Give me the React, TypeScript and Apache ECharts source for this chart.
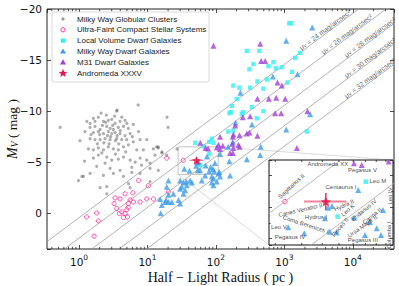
import React, { useEffect, useRef } from 'react';
import * as echarts from 'echarts';

// ---------------- data: [half-light radius (pc), M_V (mag)] ----------------
const globularClusters: [number, number][] = [
  [7.3, -10.6], [2.1, -9.8], [2.5, -9.6], [3.55, -10.0], [4.2, -9.4], [1.62, -9.3], [1.91, -9.4],
  [1.3, -9.0], [1.45, -8.8], [1.71, -9.0], [2.27, -9.0], [2.68, -9.1], [3.0, -9.2], [3.36, -8.8],
  [3.97, -9.0], [4.7, -9.1], [6.2, -8.7], [0.53, -8.4], [1.45, -8.4], [1.71, -8.5], [2.03, -8.2],
  [2.54, -8.5], [2.84, -8.3], [3.17, -8.2], [3.75, -8.4], [4.45, -8.5], [5.25, -8.3], [1.22, -8.0],
  [1.62, -7.9], [1.91, -8.0], [2.27, -7.8], [2.68, -8.0], [3.0, -7.8], [3.36, -7.9], [3.97, -7.8],
  [4.7, -7.6], [5.57, -7.8], [7.4, -8.0], [1.03, -7.1], [1.45, -7.3], [1.71, -7.2], [2.03, -7.2],
  [2.4, -7.3], [2.84, -7.2], [3.55, -7.3], [4.2, -7.2], [4.97, -7.2], [6.2, -7.0], [7.8, -7.2],
  [9.75, -7.2], [1.37, -6.3], [1.62, -6.2], [1.91, -6.4], [2.27, -6.2], [2.68, -6.5], [3.17, -6.3],
  [3.75, -6.2], [4.45, -6.5], [5.25, -6.7], [6.97, -6.2], [8.7, -6.2], [12.2, -6.3], [14.4, -6.4],
  [19.1, -5.7], [1.2, -5.1], [1.62, -5.4], [1.91, -5.7], [2.54, -5.5], [3.0, -5.2], [3.75, -5.3],
  [4.45, -5.5], [5.57, -5.2], [6.6, -5.0], [7.8, -5.4], [9.75, -5.2], [12.9, -5.7], [16.2, -5.9],
  [1.81, -4.6], [2.4, -4.9], [2.84, -4.4], [3.97, -4.2], [5.9, -4.5], [8.2, -4.7], [10.9, -4.9],
  [1.1, -3.6], [1.45, -3.9], [2.27, -3.7], [3.17, -3.9], [4.45, -3.6], [5.9, -4.0], [7.8, -3.9],
  [10.9, -4.4], [14.4, -4.2], [19.3, -9.4], [20, -8.4], [3.6, -10.1], [1.16, -3.6], [0.98, -3.2],
  [2.03, -2.5], [2.54, -1.9], [5.57, -2.5], [10.9, -3.1], [2.54, -2.6], [5.25, -2.9], [13.6, -6.5],
  [14.3, -6.5], [16.3, -6.0], [27, -6.3], [2.2, -8.6], [2.6, -7.6], [3.1, -8.6], [2.9, -7.5],
  [3.4, -7.1], [2.3, -6.9], [3.8, -6.8], [2.0, -7.7], [4.0, -8.1], [2.45, -8.9], [3.3, -9.5],
  [2.75, -6.8], [1.85, -6.8], [4.8, -6.0], [3.4, -5.8], [2.15, -5.9], [5.0, -8.8], [6.0, -7.5],
  [1.5, -7.7], [3.6, -7.6],
];

const ultraFaintSystems: [number, number][] = [
  [7.4, -3.2], [10.3, -2.7], [20.2, -2.1], [3.36, -1.5], [4.7, -1.9], [6.1, -2.0], [5.57, -1.3],
  [6.2, -1.1], [5.25, -0.95], [3.97, -1.4], [7.8, -1.1], [9.75, -1.4], [12.2, -1.4], [3.25, -0.95],
  [3.55, -0.46], [4.2, -0.13], [4.97, -0.36], [5.25, -0.56], [4.7, 0.03], [3.88, 0.03], [4.45, 0.42],
  [5.1, 0.36], [1.81, -0.03], [1.29, 0.36], [1.91, 0.75], [1.66, 2.25], [19.1, -5.4],
];

const localVolumeDwarfs: [number, number][] = [
  [1180, -18.6], [1260, -18.6], [283, -15.9], [433, -15.9], [1700, -15.7], [1440, -15.2], [353, -14.6],
  [309, -14.1], [693, -14.8], [586, -14.4], [759, -14.2], [918, -14.3], [1288, -13.85], [404, -12.9],
  [555, -13.1], [1110, -12.8], [180, -12.5], [221, -12.3], [316, -12.3], [494, -12.2], [202, -11.2],
  [171, -10.5], [335, -10.4], [247, -9.9], [494, -10.0], [165, -9.9], [239, -9.7], [396, -9.3],
  [2130, -8.0], [152, -8.0], [180, -8.1], [87, -7.3], [80, -7.0], [92, -6.9], [66, -6.55], [50, -6.9],
  [158, -9.8],
];

const milkyWayDwarfs: [number, number][] = [
  [2550, -18.2], [1063, -16.9], [1555, -13.6], [679, -13.4], [228, -11.8], [193, -8.85], [335, -8.7],
  [1063, -8.2], [2380, -9.7], [151, -6.5], [443, -5.7], [283, -5.3], [115, -5.8], [157, -5.1],
  [112, -4.05], [109, -3.9], [30, -3.2], [33.5, -3.0], [36.7, -3.1], [42, -3.2], [44.5, -3.0], [62, -3.2],
  [87, -3.6], [92, -3.4], [115, -3.6], [31.7, -2.6], [35.5, -2.25], [33.5, -1.9], [92, -2.75],
  [28.3, -1.3], [30, -0.95], [22.6, -1.1], [15.3, -1.4], [18.7, -1.3], [16.2, -0.8], [20.2, -3.2],
  [19.1, -2.6], [20.2, -1.8], [15.6, 0.0], [161, -3.7], [87, -3.0], [37.6, -2.75], [30, -2.4],
  [23.9, -1.9], [69.5, -3.7], [103, -3.1], [177, -7.0], [451, -6.5], [18.1, -1.1], [20.2, -1.1],
];

const m31Dwarfs: [number, number][] = [
  [92, -16.4], [443, -16.6], [458, -14.9], [524, -14.9], [792, -12.8], [918, -12.5], [404, -11.2],
  [593, -11.2], [759, -11.3], [1028, -11.2], [2180, -10.0], [733, -9.8], [897, -9.8], [316, -9.5],
  [247, -9.4], [191, -8.6], [221, -7.65], [283, -7.8], [177, -7.5], [115, -7.5], [126, -6.6],
  [115, -6.3], [174, -6.8], [180, -6.4], [221, -6.5], [180, -7.7], [309, -7.9], [404, -7.6],
  [109, -6.7], [161, -5.9], [177, -5.9], [213, -6.7], [1524, -6.4], [59, -6.9],
];

// Andromeda XXXV: r_h, M_V, r_h lower / upper, M_V error
const andXXXV = { r: 52, M: -5.18, rLo: 41, rHi: 65, dM: 0.27 };

// objects inside the zoomed box: [name, group, r_h, M_V]
const boxObjects: [string, string, number, number][] = [
  ['Andromeda XX', 'M31', 70.6, -6.4], ['Pegasus V', 'M31', 76.8, -6.34], ['', 'M31', 103, -6.45],
  ['Leo M', 'LV', 80.4, -5.81], ['Centaurus I', 'MW', 74, -5.55], ['Sagittarius II', 'UF', 33.3, -5.18],
  ['Hydra II', 'MW', 55.6, -5.04], ['Canes Venatici II', 'MW', 53.3, -4.98], ['Hydrus I', 'MW', 51.5, -4.65],
  ['Leo K', 'LV', 59.1, -4.7], ['Coma Berenices I', 'MW', 54.3, -4.22], ['Pisces II', 'MW', 58.5, -4.2],
  ['Leo V', 'MW', 34.5, -4.36], ['Pegasus IV', 'MW', 41.1, -4.17], ['Eridanus IV', 'MW', 70.8, -4.67],
  ['Carina II', 'MW', 84, -4.53], ['Ursa Major II', 'MW', 90.4, -4.33], ['Pegasus III', 'MW', 79.6, -4.12],
  ['Columba I', 'MW', 94.8, -4.12], ['Leo IV', 'MW', 96.8, -4.91],
];

// inset name annotations: [text, r_h, M_V (text centre), rotation deg]
const insetLabels: [string, number, number, number][] = [
  ['Andromeda XX', 53.1, -6.37, 0], ['Pegasus V', 77.4, -6.18, 0], ['Leo M', 91.6, -5.83, 0],
  ['Centaurus I', 61.3, -5.64, 0], ['Sagittarius II', 35.7, -5.67, 43], ['Canes Venatici II', 39.4, -4.91, 13],
  ['Hydra II', 63.3, -5.06, 25], ['Hydrus I', 46.7, -4.7, 0], ['Leo K', 66.1, -4.91, 40],
  ['Coma Berenices I', 41.8, -4.45, -18], ['Leo V', 31.2, -4.36, 0], ['Pegasus IV', 35.2, -4.05, 0],
  ['Pisces II', 60.6, -4.36, 50], ['Eridanus IV', 78.7, -4.91, 40], ['Carina II', 85.9, -4.72, 40],
  ['Ursa Major II', 77.4, -4.39, 35], ['Pegasus III', 77.8, -3.96, 0], ['Columba I', 103.3, -4.12, 90],
  ['Leo IV', 104.5, -5.36, 90],
];

// surface-brightness levels (mag/arcsec^2) and where their labels start (pc)
const sbLevels = [24, 26, 28, 30, 32];
const sbLabelRadius = [1820, 3800, 8280, 8280, 8280];

const legendNames = [
  'Milky Way Globular Clusters', 'Ultra-Faint Compact Stellar Systems', 'Local Volume Dwarf Galaxies',
  'Milky Way Dwarf Galaxies', 'M31 Dwarf Galaxies', 'Andromeda XXXV',
];

// ---------------- layout / style ----------------
const X_RANGE = [0.34, 40000];
const Y_RANGE = [-20, 3.5];
const BOX_X = [28, 108];
const BOX_Y = [-6.5, -3.8];
const MAIN = { left: 47, top: 9, width: 347, height: 240 };
const INSET = { left: 269, top: 160, width: 124, height: 85 };

const C = {
  gc: 'rgba(70,70,70,0.55)', uf: '#ff2aa0', lv: '#2ff0f0', mw: '#3c9ce8', m31: '#a13fd8', star: '#e3174b',
  sb: '#a0a0a0', ink: '#111',
};
const STAR = 'path://M0,-10L2.94,-4.05L9.51,-3.09L4.76,1.55L5.88,8.09L0,5L-5.88,8.09L-4.76,1.55L-9.51,-3.09L-2.94,-4.05Z';

const sbMag = (mu: number, r: number) => mu - 23.57 - 5 * Math.log10(r);

function starPts(cx: number, cy: number, R: number, r: number) {
  const p: number[][] = [];
  for (let i = 0; i < 10; i++) {
    const a = -Math.PI / 2 + (i * Math.PI) / 5;
    const rad = i % 2 ? r : R;
    p.push([cx + rad * Math.cos(a), cy + rad * Math.sin(a)]);
  }
  return p;
}

function buildOption() {
  const boxOf = (g: string) => boxObjects.filter((o) => o[1] === g).map((o) => [o[2], o[3]]);

  const minorMain: number[][] = [];
  for (let e = -1; e <= 4; e++)
    for (let k = 2; k <= 9; k++) {
      const v = k * Math.pow(10, e);
      if (v > X_RANGE[0] && v < X_RANGE[1]) minorMain.push([v, 0]);
    }
  const minorInset: number[][] = [];
  for (let k = 3; k <= 10; k++) minorInset.push([k * 10, -5]);

  const tickRender = (yBot: number, yTop: number, len: number) => (p: any, api: any) => {
    const v = api.value(0);
    const b = api.coord([v, yBot]);
    const t = api.coord([v, yTop]);
    const st = { stroke: '#222', lineWidth: 0.8 };
    return {
      type: 'group',
      children: [
        { type: 'line', shape: { x1: b[0], y1: b[1], x2: b[0], y2: b[1] - len }, style: st },
        { type: 'line', shape: { x1: t[0], y1: t[1], x2: t[0], y2: t[1] + len }, style: st },
      ],
    };
  };

  const errRender = (hw: number, vw: number) => (p: any, api: any) => {
    const x = api.value(0), y = api.value(1);
    const l = api.coord([api.value(2), y]);
    const r = api.coord([api.value(3), y]);
    const t = api.coord([x, y - api.value(4)]);
    const b = api.coord([x, y + api.value(4)]);
    return {
      type: 'group',
      children: [
        { type: 'line', shape: { x1: l[0], y1: l[1], x2: r[0], y2: r[1] }, style: { stroke: 'rgba(236,90,120,0.75)', lineWidth: hw } },
        { type: 'line', shape: { x1: t[0], y1: t[1], x2: b[0], y2: b[1] }, style: { stroke: C.star, lineWidth: vw } },
      ],
    };
  };

  const log10Label = (v: number) => {
    const e = Math.log10(v);
    const n = Math.round(e);
    if (Math.abs(e - n) > 1e-6) return '';
    return `{b|10}{s|${n}}`;
  };

  const noAxisLine = { show: false, onZero: false };
  const series: any[] = [];

  // surface-brightness lines (main)
  sbLevels.forEach((mu) => {
    series.push({
      type: 'line', xAxisIndex: 0, yAxisIndex: 0, silent: true, symbol: 'none', z: 1,
      data: [[0.2, sbMag(mu, 0.2)], [80000, sbMag(mu, 80000)]],
      lineStyle: { color: C.sb, width: 0.8 },
    });
  });
  series.push({
    type: 'scatter', xAxisIndex: 0, yAxisIndex: 0, symbolSize: 0, silent: true, z: 1,
    data: sbLevels.map((mu, i) => ({ name: String(mu), value: [sbLabelRadius[i], sbMag(mu, sbLabelRadius[i])] })),
    label: {
      show: true, position: 'inside', align: 'left', verticalAlign: 'bottom', rotate: 36.7,
      formatter: (p: any) => `{m|μ}{v|V}{t| = ${p.name} mag/arcsec²}`,
      rich: {
        m: { fontSize: 6.8, fontFamily: 'Liberation Sans', color: '#333' },
        v: { fontSize: 4.8, fontFamily: 'Liberation Sans', color: '#333', verticalAlign: 'bottom' },
        t: { fontSize: 6.8, fontFamily: 'Liberation Sans', color: '#333' },
      },
    },
  });
  // zoom box + connectors
  series.push({
    type: 'line', xAxisIndex: 0, yAxisIndex: 0, silent: true, symbol: 'none', z: 1,
    data: [[BOX_X[0], BOX_Y[0]], [BOX_X[1], BOX_Y[0]], [BOX_X[1], BOX_Y[1]], [BOX_X[0], BOX_Y[1]], [BOX_X[0], BOX_Y[0]]],
    lineStyle: { color: '#c4c4c4', width: 1 },
  });
  series.push({
    type: 'custom', xAxisIndex: 0, yAxisIndex: 0, silent: true, z: 1,
    data: [[BOX_X[1], BOX_Y[0], 0], [BOX_X[0], BOX_Y[1], 1]],
    renderItem: (p: any, api: any) => {
      const a = api.coord([api.value(0), api.value(1)]);
      const tgt = api.value(2) === 0
        ? [INSET.left + INSET.width, INSET.top]
        : [INSET.left, INSET.top + INSET.height];
      return { type: 'line', shape: { x1: a[0], y1: a[1], x2: tgt[0], y2: tgt[1] }, style: { stroke: '#d0d0d0', lineWidth: 0.8 } };
    },
  });

  // main data
  series.push({ name: legendNames[0], type: 'scatter', xAxisIndex: 0, yAxisIndex: 0, z: 2, symbolSize: 3.2, itemStyle: { color: C.gc }, data: globularClusters });
  series.push({
    name: legendNames[1], type: 'scatter', xAxisIndex: 0, yAxisIndex: 0, z: 2, symbol: 'circle', symbolSize: 4.2,
    itemStyle: { color: 'rgba(255,255,255,0)', borderColor: C.uf, borderWidth: 1 },
    data: [...ultraFaintSystems, ...boxOf('UF')],
  });
  series.push({ name: legendNames[2], type: 'scatter', xAxisIndex: 0, yAxisIndex: 0, z: 2, symbol: 'rect', symbolSize: 4.4, itemStyle: { color: C.lv }, data: [...localVolumeDwarfs, ...boxOf('LV')] });
  series.push({ name: legendNames[3], type: 'scatter', xAxisIndex: 0, yAxisIndex: 0, z: 2, symbol: 'triangle', symbolSize: 6, itemStyle: { color: C.mw }, data: [...milkyWayDwarfs, ...boxOf('MW')] });
  series.push({ name: legendNames[4], type: 'scatter', xAxisIndex: 0, yAxisIndex: 0, z: 2, symbol: 'triangle', symbolSize: 6, itemStyle: { color: C.m31 }, data: [...m31Dwarfs, ...boxOf('M31')] });
  series.push({
    type: 'custom', xAxisIndex: 0, yAxisIndex: 0, z: 3, silent: true,
    data: [[andXXXV.r, andXXXV.M, andXXXV.rLo, andXXXV.rHi, andXXXV.dM]], renderItem: errRender(1.3, 1),
  });
  series.push({ name: legendNames[5], type: 'scatter', xAxisIndex: 0, yAxisIndex: 0, z: 3, symbol: STAR, symbolKeepAspect: true, symbolSize: 9, itemStyle: { color: C.star }, data: [[andXXXV.r, andXXXV.M]] });
  series.push({ type: 'custom', xAxisIndex: 0, yAxisIndex: 0, z: 3, silent: true, data: minorMain, renderItem: tickRender(Y_RANGE[1], Y_RANGE[0], 2.2) });

  // inset
  sbLevels.forEach((mu) => {
    series.push({
      type: 'line', xAxisIndex: 2, yAxisIndex: 2, silent: true, symbol: 'none', z: 21, clip: true,
      data: [[10, sbMag(mu, 10)], [300, sbMag(mu, 300)]],
      lineStyle: { color: '#aaaaaa', width: 0.8 },
    });
  });
  series.push({
    type: 'scatter', xAxisIndex: 2, yAxisIndex: 2, z: 22, symbol: 'circle', symbolSize: 4.5,
    itemStyle: { color: 'rgba(255,255,255,0)', borderColor: C.uf, borderWidth: 1 }, data: boxOf('UF'),
  });
  series.push({ type: 'scatter', xAxisIndex: 2, yAxisIndex: 2, z: 22, symbol: 'rect', symbolSize: 4.6, itemStyle: { color: C.lv }, data: boxOf('LV') });
  series.push({ type: 'scatter', xAxisIndex: 2, yAxisIndex: 2, z: 22, symbol: 'triangle', symbolSize: 6, itemStyle: { color: C.mw }, data: boxOf('MW') });
  series.push({ type: 'scatter', xAxisIndex: 2, yAxisIndex: 2, z: 22, symbol: 'triangle', symbolSize: 6, itemStyle: { color: C.m31 }, data: boxOf('M31') });
  series.push({
    type: 'custom', xAxisIndex: 2, yAxisIndex: 2, z: 22, silent: true,
    data: [[andXXXV.r, andXXXV.M, andXXXV.rLo, andXXXV.rHi, andXXXV.dM]], renderItem: errRender(2, 1.3),
  });
  series.push({ type: 'scatter', xAxisIndex: 2, yAxisIndex: 2, z: 23, symbol: STAR, symbolKeepAspect: true, symbolSize: 10, itemStyle: { color: C.star }, data: [[andXXXV.r, andXXXV.M]] });
  series.push({
    type: 'scatter', xAxisIndex: 2, yAxisIndex: 2, z: 24, symbolSize: 0, silent: true,
    data: insetLabels.map((l) => ({ name: l[0], value: [l[1], l[2]], label: { rotate: l[3] } })),
    label: {
      show: true, position: 'inside', formatter: '{b}', align: 'center', verticalAlign: 'middle',
      fontSize: 6, fontFamily: 'Liberation Sans', color: '#111',
    },
  });
  series.push({ type: 'custom', xAxisIndex: 2, yAxisIndex: 2, z: 24, silent: true, data: minorInset, renderItem: tickRender(BOX_Y[1], BOX_Y[0], 2) });

  // legend (drawn)
  const lx = 52, ly = 12, rowY0 = 19, dy = 10.8, ix = 63, tx = 77;
  const graphic: any[] = [
    { type: 'rect', z: 30, shape: { x: lx, y: ly, width: 157, height: 70, r: 2 }, style: { fill: 'rgba(255,255,255,0.9)', stroke: '#cfcfcf', lineWidth: 0.8 } },
  ];
  const icons = [
    (cy: number) => ({ type: 'circle', shape: { cx: ix, cy, r: 1.6 }, style: { fill: C.gc } }),
    (cy: number) => ({ type: 'circle', shape: { cx: ix, cy, r: 2.1 }, style: { fill: 'none', stroke: C.uf, lineWidth: 1 } }),
    (cy: number) => ({ type: 'rect', shape: { x: ix - 2.2, y: cy - 2.2, width: 4.4, height: 4.4 }, style: { fill: C.lv } }),
    (cy: number) => ({ type: 'polygon', shape: { points: [[ix, cy - 3], [ix + 3, cy + 2.2], [ix - 3, cy + 2.2]] }, style: { fill: C.mw } }),
    (cy: number) => ({ type: 'polygon', shape: { points: [[ix, cy - 3], [ix + 3, cy + 2.2], [ix - 3, cy + 2.2]] }, style: { fill: C.m31 } }),
    (cy: number) => ({ type: 'polygon', shape: { points: starPts(ix, cy + 0.3, 4.6, 1.9) }, style: { fill: C.star } }),
  ];
  legendNames.forEach((n, i) => {
    const cy = rowY0 + i * dy;
    graphic.push({ ...icons[i](cy), z: 31 });
    graphic.push({
      type: 'text', z: 31, x: tx, y: cy,
      style: { text: n, fontSize: 8, fontFamily: 'Liberation Sans', fill: '#222', verticalAlign: 'middle', align: 'left' },
    });
  });

  const mainTick = { inside: true, length: 4, lineStyle: { color: '#222', width: 0.8 } };
  const insetCommon = { axisLine: noAxisLine, axisLabel: { show: false }, splitLine: { show: false }, z: 21 };

  return {
    animation: false,
    backgroundColor: '#fff',
    grid: [
      { ...MAIN, containLabel: false, outerBoundsMode: 'none', show: true, borderColor: '#222', borderWidth: 1, backgroundColor: 'transparent', z: 0 },
      { ...INSET, containLabel: false, outerBoundsMode: 'none', show: true, borderColor: '#111', borderWidth: 1, backgroundColor: '#fff', z: 20 },
    ],
    xAxis: [
      {
        gridIndex: 0, type: 'log', logBase: 10, min: X_RANGE[0], max: X_RANGE[1], position: 'bottom',
        axisLine: noAxisLine, axisTick: mainTick, splitLine: { show: false },
        axisLabel: {
          margin: 4, formatter: log10Label, showMinLabel: false, showMaxLabel: false,
          rich: {
            b: { fontSize: 10.5, fontFamily: 'DejaVu Sans', color: C.ink, verticalAlign: 'bottom', lineHeight: 14 },
            s: { fontSize: 7.5, fontFamily: 'DejaVu Sans', color: C.ink, verticalAlign: 'top', lineHeight: 9 },
          },
        },
        name: 'Half − Light Radius ( pc )', nameLocation: 'middle', nameGap: 20.5, nameMoveOverlap: false,
        nameTextStyle: { fontFamily: 'Liberation Serif', fontSize: 14, color: C.ink, lineHeight: 15 },
      },
      {
        gridIndex: 0, type: 'log', logBase: 10, min: X_RANGE[0], max: X_RANGE[1], position: 'top',
        axisLine: noAxisLine, axisTick: mainTick, splitLine: { show: false }, axisLabel: { show: false },
      },
      { gridIndex: 1, type: 'log', logBase: 10, min: BOX_X[0], max: BOX_X[1], position: 'bottom', axisTick: { show: false }, ...insetCommon },
      { gridIndex: 1, type: 'log', logBase: 10, min: BOX_X[0], max: BOX_X[1], position: 'top', axisTick: { show: false }, ...insetCommon },
    ],
    yAxis: [
      {
        gridIndex: 0, type: 'value', inverse: true, min: Y_RANGE[0], max: Y_RANGE[1], interval: 5, position: 'left',
        axisLine: noAxisLine, axisTick: mainTick, splitLine: { show: false },
        axisLabel: {
          margin: 5, fontSize: 10.5, fontFamily: 'DejaVu Sans', color: C.ink,
          formatter: (v: number) => (Math.abs(v % 5) < 1e-9 ? (v < 0 ? '−' + -v : String(v)) : ''),
        },
        name: '{i|M}{s|V}{r| ( mag )}', nameLocation: 'middle', nameGap: 27, nameRotate: 90, nameMoveOverlap: false,
        nameTextStyle: {
          lineHeight: 15,
          rich: {
            i: { fontFamily: 'Liberation Serif', fontStyle: 'italic', fontSize: 14, color: C.ink, lineHeight: 15 },
            s: { fontFamily: 'Liberation Serif', fontStyle: 'italic', fontSize: 9.5, color: C.ink, verticalAlign: 'bottom', lineHeight: 15 },
            r: { fontFamily: 'Liberation Serif', fontSize: 13.5, color: C.ink, lineHeight: 15 },
          },
        },
      },
      {
        gridIndex: 0, type: 'value', inverse: true, min: Y_RANGE[0], max: Y_RANGE[1], interval: 5, position: 'right',
        axisLine: noAxisLine, axisTick: mainTick, splitLine: { show: false }, axisLabel: { show: false },
      },
      {
        gridIndex: 1, type: 'value', inverse: true, min: BOX_Y[0], max: BOX_Y[1], splitNumber: 2, position: 'left',
        axisTick: { inside: true, length: 3, lineStyle: { color: '#222', width: 0.8 } },
        minorTick: { show: true, splitNumber: 2, length: 1.6, lineStyle: { color: '#222', width: 0.8 } },
        ...insetCommon,
      },
      {
        gridIndex: 1, type: 'value', inverse: true, min: BOX_Y[0], max: BOX_Y[1], splitNumber: 2, position: 'right',
        axisTick: { inside: true, length: 3, lineStyle: { color: '#222', width: 0.8 } },
        minorTick: { show: true, splitNumber: 2, length: 1.6, lineStyle: { color: '#222', width: 0.8 } },
        ...insetCommon,
      },
    ],
    graphic,
    series,
  };
}

export default function App() {
  const ref = useRef<HTMLDivElement>(null);
  useEffect(() => {
    const chart = echarts.init(ref.current!, undefined, { renderer: 'svg' });
    chart.setOption(buildOption() as any);
    return () => chart.dispose();
  }, []);
  return <div ref={ref} style={{ position: 'absolute', left: 0, top: 0, width: 399, height: 286 }} />;
}
